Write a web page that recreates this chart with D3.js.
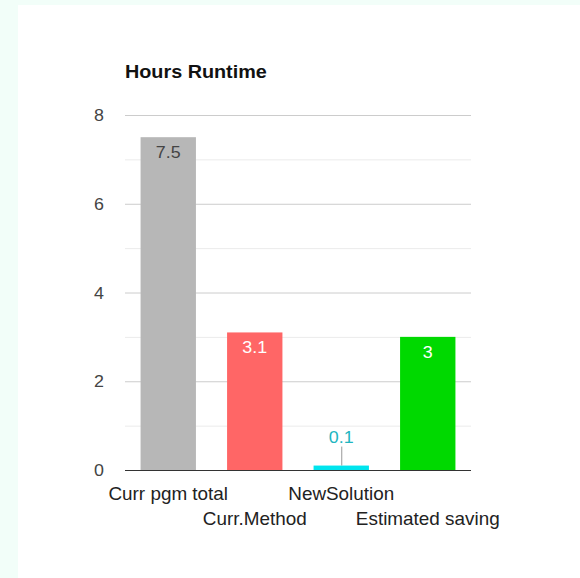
<!DOCTYPE html>
<html>
<head>
<meta charset="utf-8">
<script src="https://cdn.jsdelivr.net/npm/d3@7"></script>
<style>
  html, body { margin: 0; padding: 0; background: #f2fef9; }
  svg { display: block; }
</style>
</head>
<body>
<svg id="chart" width="580" height="578"></svg>
<script>
// Runtime figures in hours
const categories = ["Curr pgm total", "Curr.Method", "NewSolution", "Estimated saving"];
const hours = [7.5, 3.1, 0.1, 3];
const barColors = ["#b7b7b7", "#ff6666", "#00e5ee", "#00d900"];
const labelColors = ["#444444", "#ffffff", "#21b5c0", "#ffffff"];
const yTicks = [0, 2, 4, 6, 8];
const yMinor = [1, 3, 5, 7];
const title = "Hours Runtime";

(function draw() {
  const svg = d3.select("#chart");
  const font = "'Liberation Sans', Arial, sans-serif";
  const stretch = 1.05; // slightly wide lettering

  // place a text anchored at (px, py) with horizontal stretch
  function label(parent, px, py, str, opts) {
    const g = parent.append("g").attr("transform", `translate(${px},${py}) scale(${opts.sx || stretch},1)`);
    return g.append("text")
      .attr("text-anchor", opts.anchor || "middle")
      .attr("font-family", font)
      .attr("font-size", opts.size || 17)
      .attr("font-weight", opts.weight || "normal")
      .attr("fill", opts.fill || "#333")
      .text(str);
  }

  // white card
  svg.append("rect").attr("x", 18).attr("y", 5).attr("width", 562).attr("height", 573).attr("fill", "#ffffff");

  const plotLeft = 125, plotRight = 471, plotTop = 115, plotBottom = 470;

  const x = d3.scaleBand().domain(categories).range([plotLeft, plotRight]).paddingInner(0.36).paddingOuter(0.18);
  const y = d3.scaleLinear().domain([0, 8]).range([plotBottom, plotTop]);

  // title
  label(svg, plotLeft, 78, title, { anchor: "start", size: 18, weight: "bold", fill: "#111", sx: 1.1 });

  // minor grid
  svg.append("g").selectAll("line").data(yMinor).join("line")
    .attr("x1", plotLeft).attr("x2", plotRight)
    .attr("y1", d => y(d) + 0.5).attr("y2", d => y(d) + 0.5)
    .attr("stroke", "#ebebeb").attr("stroke-width", 1);

  // major grid + tick labels
  const yAxis = svg.append("g").attr("transform", `translate(${plotLeft},0)`)
    .call(d3.axisLeft(y).tickValues(yTicks).tickSize(-(plotRight - plotLeft)).tickFormat(""));
  yAxis.select(".domain").remove();
  yAxis.selectAll(".tick line").attr("stroke", "#cccccc");
  yAxis.selectAll(".tick").filter(d => d === 0).select("line").attr("stroke", "none");
  const tickLabels = svg.append("g");
  yTicks.forEach(t => label(tickLabels, plotLeft - 21, y(t) + 6, t, { anchor: "end", size: 17, fill: "#444" }));

  // bars
  svg.append("g").selectAll("rect").data(hours).join("rect")
    .attr("x", (d, i) => x(categories[i]))
    .attr("y", d => y(d))
    .attr("width", x.bandwidth())
    .attr("height", d => y(0) - y(d))
    .attr("fill", (d, i) => barColors[i]);

  // baseline
  svg.append("line").attr("x1", plotLeft).attr("x2", plotRight)
    .attr("y1", y(0) + 0.5).attr("y2", y(0) + 0.5)
    .attr("stroke", "#333").attr("stroke-width", 1.2);

  // value labels: inside tall bars, above short ones with a leader line
  const labels = svg.append("g");
  hours.forEach((d, i) => {
    const cx = x(categories[i]) + x.bandwidth() / 2;
    const inside = (y(0) - y(d)) > 30;
    if (inside) {
      label(labels, cx, y(d) + 21, d, { size: 17, fill: labelColors[i] });
    } else {
      labels.append("line").attr("x1", cx + 0.5).attr("x2", cx + 0.5)
        .attr("y1", y(d) - 19).attr("y2", y(d))
        .attr("stroke", "#999").attr("stroke-width", 1);
      label(labels, cx, y(d) - 23, d, { size: 17, fill: labelColors[i] });
    }
  });

  // staggered category labels
  const cats = svg.append("g");
  categories.forEach((c, i) => {
    label(cats, x(c) + x.bandwidth() / 2, i % 2 === 0 ? 500 : 525, c, { size: 18, fill: "#222" });
  });
})();
</script>
</body>
</html>
